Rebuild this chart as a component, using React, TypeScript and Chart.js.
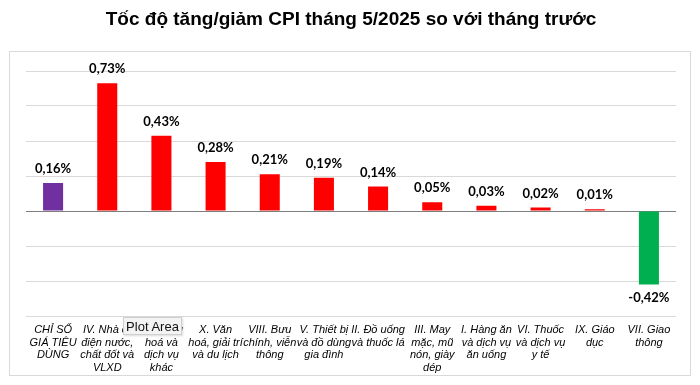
import React, { useEffect, useRef } from "react";
import { Chart, registerables } from "chart.js";

Chart.register(...registerables);

const TITLE = "Tốc độ tăng/giảm CPI tháng 5/2025 so với tháng trước";

const categories: string[][] = [
  ["CHỈ SỐ", "GIÁ TIÊU", "DÙNG"],
  ["IV. Nhà ở,", "điện nước,", "chất đốt và", "VLXD"],
  ["XI. Hàng", "hoá và", "dịch vụ", "khác"],
  ["X. Văn", "hoá, giải trí", "và du lịch"],
  ["VIII. Bưu", "chính, viễn", "thông"],
  ["V. Thiết bị", "và đồ dùng", "gia đình"],
  ["II. Đồ uống", "và thuốc lá"],
  ["III. May", "mặc, mũ", "nón, giày", "dép"],
  ["I. Hàng ăn", "và dịch vụ", "ăn uống"],
  ["VI. Thuốc", "và dịch vụ", "y tế"],
  ["IX. Giáo", "dục"],
  ["VII. Giao", "thông"],
];

const values: number[] = [0.16, 0.73, 0.43, 0.28, 0.21, 0.19, 0.14, 0.05, 0.03, 0.02, 0.01, -0.42];

const barColors: string[] = [
  "#7030A0", "#FF0000", "#FF0000", "#FF0000", "#FF0000", "#FF0000",
  "#FF0000", "#FF0000", "#FF0000", "#FF0000", "#FF0000", "#00B050",
];

const fmt = (v: number) => v.toFixed(2).replace(".", ",") + "%";

const framePlugin = {
  id: "frame",
  beforeDraw(chart: any) {
    const ctx = chart.ctx;
    ctx.save();
    ctx.strokeStyle = "#d9d9d9";
    ctx.lineWidth = 1;
    ctx.strokeRect(9.5, 51.5, 681, 324);
    ctx.restore();
  },
};

const labelPlugin = {
  id: "valueLabels",
  afterDatasetsDraw(chart: any) {
    const ctx = chart.ctx;
    const meta = chart.getDatasetMeta(0);
    ctx.save();
    ctx.font = "bold 13px Lato, 'Liberation Sans', sans-serif";
    ctx.fillStyle = "#000";
    ctx.textAlign = "center";
    ctx.textBaseline = "middle";
    meta.data.forEach((bar: any, i: number) => {
      const v = values[i];
      const y = v >= 0 ? bar.y - 14 : bar.y + 13;
      ctx.fillText(fmt(v), bar.x, y);
    });
    ctx.restore();
  },
};

export default function App() {
  const ref = useRef<HTMLCanvasElement | null>(null);

  useEffect(() => {
    document.body.style.margin = "0";
    const canvas = ref.current;
    if (!canvas) return;
    const chart = new Chart(canvas, {
      type: "bar",
      data: {
        labels: categories,
        datasets: [
          {
            data: values,
            backgroundColor: barColors,
            borderWidth: 0,
            categoryPercentage: 1,
            barPercentage: 0.37,
          },
        ],
      },
      options: {
        animation: false,
        responsive: false,
        maintainAspectRatio: false,
        layout: { padding: { top: 0, left: 26, right: 24, bottom: 9 } },
        plugins: {
          legend: { display: false },
          tooltip: { enabled: false },
          title: {
            display: true,
            text: TITLE,
            color: "#000",
            font: { family: "'Liberation Sans', Arial, sans-serif", size: 19, weight: "bold", lineHeight: 1.2 },
            padding: { top: 8, bottom: 40.2 },
          },
        },
        scales: {
          x: {
            grid: { display: false },
            border: { display: false },
            ticks: {
              color: "#000",
              autoSkip: false,
              maxRotation: 0,
              minRotation: 0,
              padding: 0,
              font: { family: "'Liberation Sans', Arial, sans-serif", size: 11, style: "italic", lineHeight: 1.14 },
            },
            afterFit: (scale: any) => {
              scale.height = 60;
            },
          },
          y: {
            min: -0.6,
            max: 0.8,
            ticks: { display: false, stepSize: 0.2 },
            border: { display: false },
            grid: {
              drawTicks: false,
              color: (c: any) => (Math.abs(c.tick?.value ?? 1) < 1e-9 ? "#7f7f7f" : "#d9d9d9"),
              lineWidth: 1,
            },
            afterFit: (scale: any) => {
              scale.width = 0;
            },
          },
        },
      },
      plugins: [framePlugin, labelPlugin],
    } as any);
    return () => chart.destroy();
  }, []);

  return (
    <div style={{ position: "relative", width: 700, height: 385, background: "#fff" }}>
      <canvas ref={ref} width={700} height={385} style={{ display: "block" }} />
      <div
        style={{
          position: "absolute",
          left: 123,
          top: 317,
          width: 59,
          height: 18,
          background: "#f3f3f3",
          border: "1px solid #cfcfcf",
          boxShadow: "1px 1px 2px rgba(0,0,0,0.15)",
          fontFamily: "'Liberation Sans', Arial, sans-serif",
          fontSize: 13,
          lineHeight: "18px",
          textAlign: "center",
          color: "#111",
          boxSizing: "border-box",
        }}
      >
        Plot Area
      </div>
    </div>
  );
}
